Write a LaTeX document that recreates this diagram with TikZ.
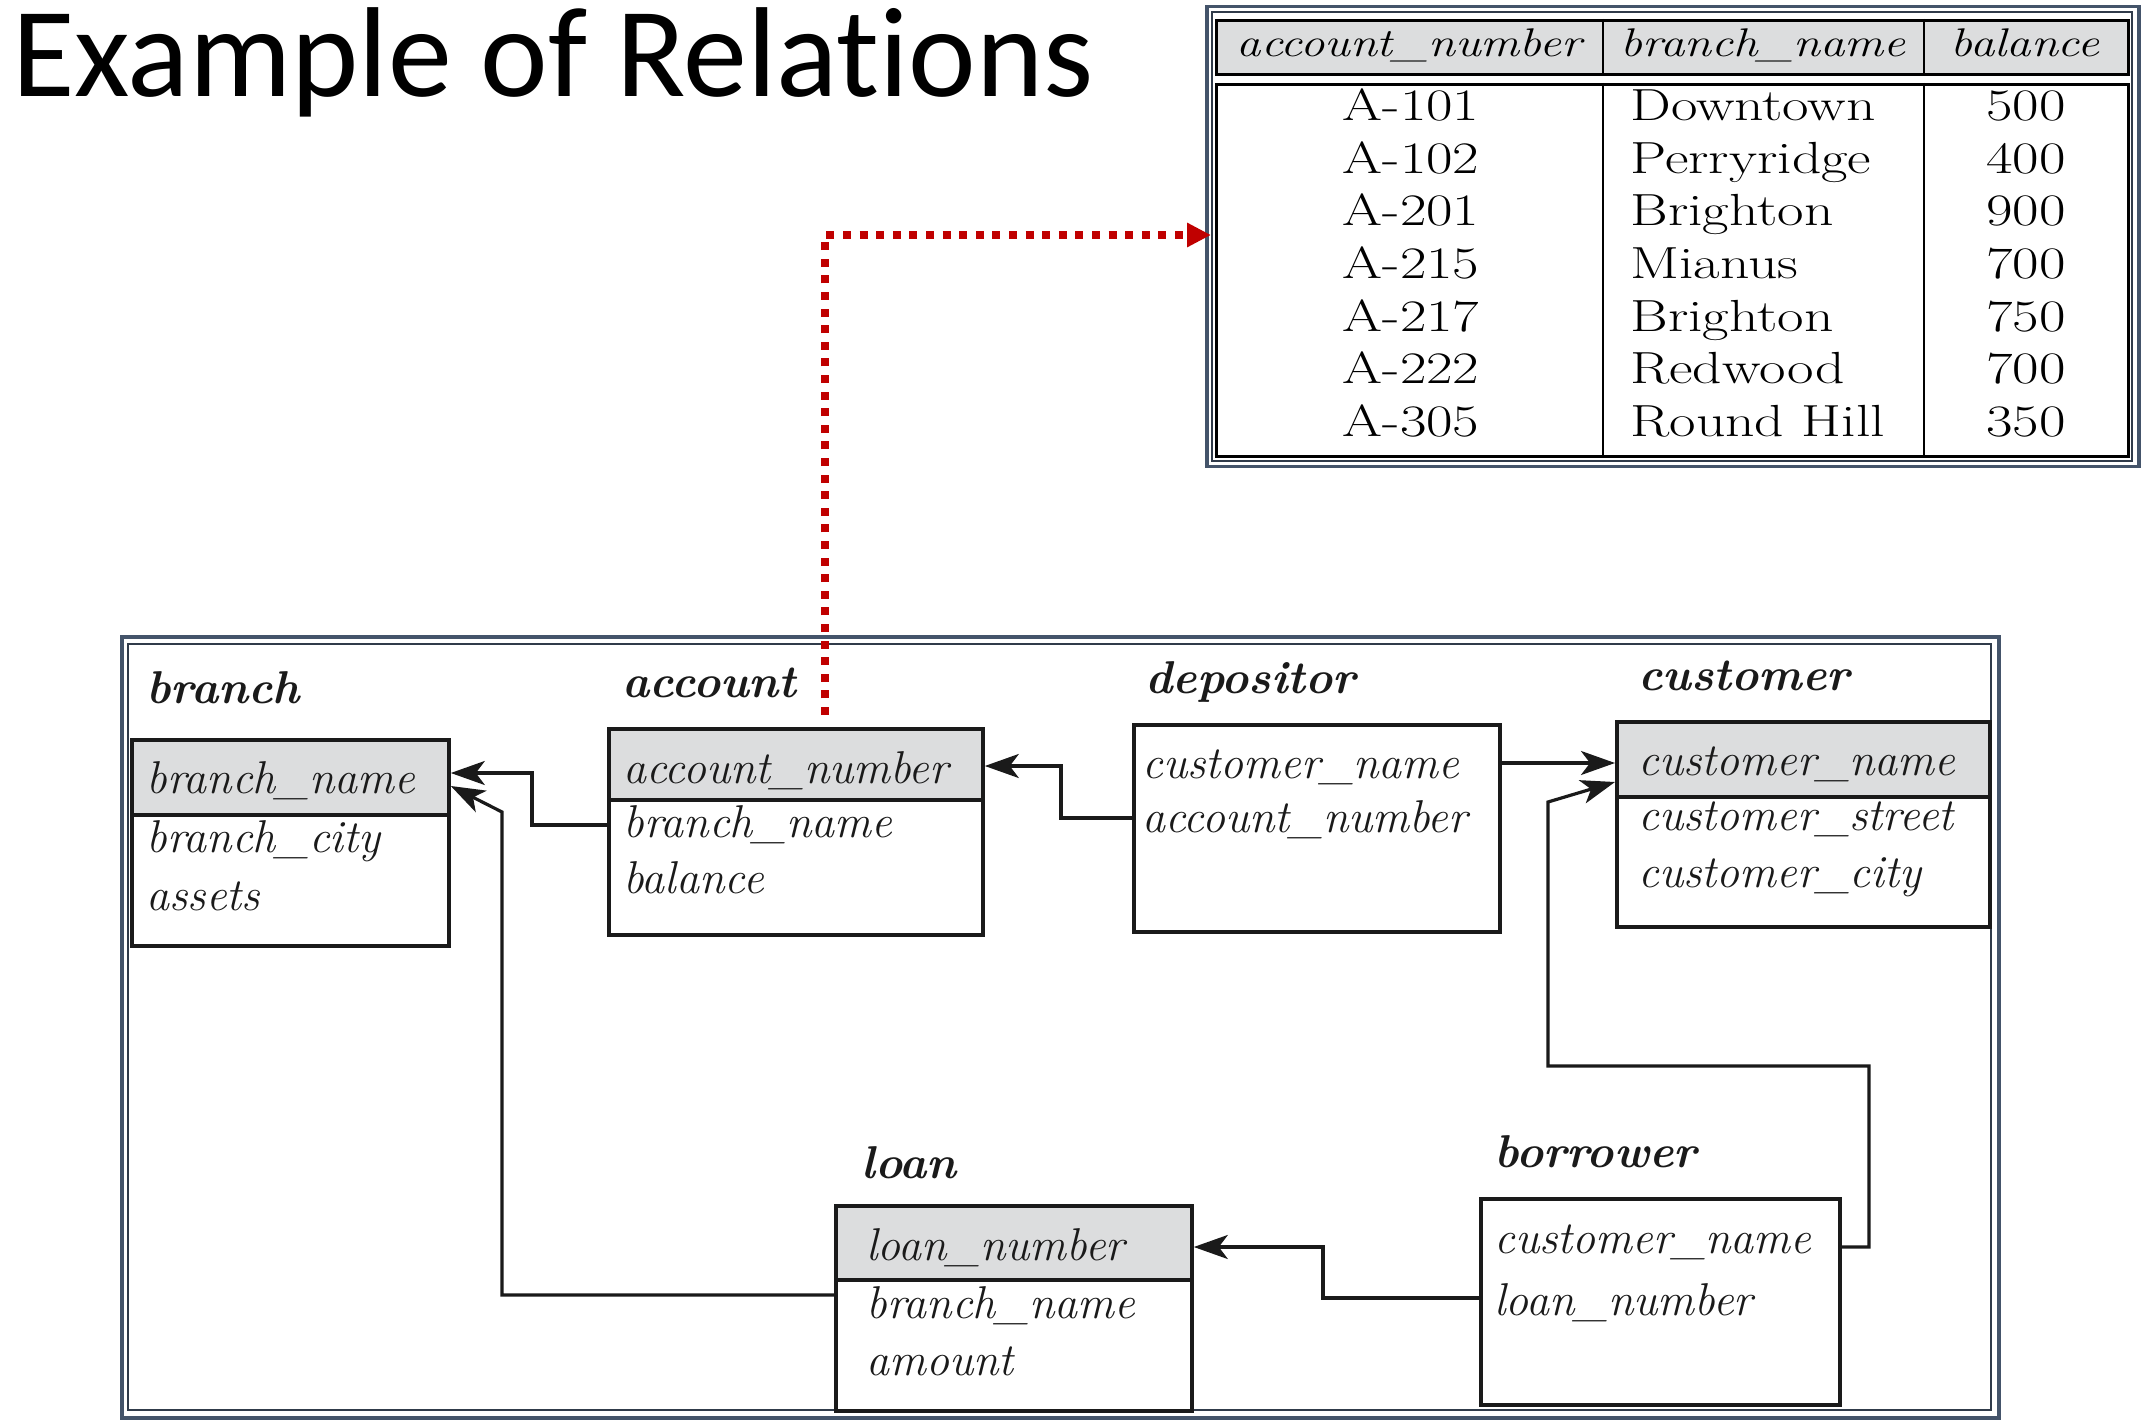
\documentclass[tikz,border=0pt]{standalone}
\usepackage{fontspec}
\newfontfamily\tabfont{Latin Modern Roman}[FakeStretch=1.28]
\newfontfamily\tabheadfont{Latin Modern Roman}[FakeStretch=1.22]
\newfontfamily\titlefont{Carlito}[Ligatures=NoCommon]
\usetikzlibrary{arrows.meta}
\definecolor{frame}{HTML}{44546A}
\definecolor{hdrgray}{HTML}{DCDDDE}
\definecolor{ink}{HTML}{1A1A1A}
\definecolor{redarrow}{HTML}{C00000}
\begin{document}
\begin{tikzpicture}[x=0.5pt,y=-0.5pt,
  rel/.style={draw=ink, line width=1.9pt, anchor=north west, inner sep=0pt, fill=white},
  hdr/.style={rel, fill=hdrgray},
  attr/.style={anchor=base west, inner sep=0pt, xshift=-2pt, font=\fontsize{23pt}{23pt}\selectfont\itshape, text=ink},
  relname/.style={anchor=base west, inner sep=0pt, xshift=-2pt, font=\fontsize{23pt}{23pt}\selectfont\bfseries\itshape, text=ink},
  fk/.style={draw=ink, line width=1.6pt, -{Stealth[length=17pt, width=12pt, inset=4.5pt]}},
  reddot/.style={draw=redarrow, line width=4pt, dash pattern=on 4pt off 4.3pt, -{Triangle[length=12pt, width=11.5pt]}},
  outerframe/.style={draw=frame, line width=1.75pt, anchor=north west, inner sep=0pt},
  innerframe/.style={draw=frame!70!black, line width=1.2pt, anchor=north west, inner sep=0pt},
  tcell/.style={inner sep=0pt, font=\tabfont\fontsize{22.5pt}{22.5pt}\selectfont},
  thead/.style={anchor=base, inner sep=0pt, font=\tabheadfont\fontsize{20pt}{20pt}\selectfont\itshape},
  tbox/.style={draw=black, line width=1.5pt, anchor=north west, inner sep=0pt}
]
\useasboundingbox (0,0) rectangle (2144,1423);
\fill[white] (0,0) rectangle (2144,1423);

% title
\node[anchor=base west, inner sep=0pt, font=\titlefont\fontsize{64pt}{64pt}\selectfont] (title) at (12,97) {Example of Relations};

% ---------- account table ----------
\node[outerframe, minimum width=466pt, minimum height=230pt] (acctable) at (1205,5) {};
\node[innerframe, minimum width=460pt, minimum height=224.5pt] (acctin) at (1211,11) {};
\node[tbox, fill=hdrgray, minimum width=456pt, minimum height=27pt] (thdr) at (1215,19) {};
\node[tbox, fill=white, minimum width=456pt, minimum height=186pt] (tbody) at (1215,83) {};
\draw[line width=1.2pt] (1603,19) -- (1603,73) (1924,19) -- (1924,73);
\draw[line width=1.2pt] (1603,83) -- (1603,455) (1924,83) -- (1924,455);
\node[thead] (h1) at (1409,57) {account\_number};
\node[thead] (h2) at (1763,57) {branch\_name};
\node[thead] (h3) at (2025,57) {balance};
\foreach \i/\a/\b/\c in {0/A-101/Downtown/500, 1/A-102/Perryridge/400, 2/A-201/Brighton/900,
  3/A-215/Mianus/700, 4/A-217/Brighton/750, 5/A-222/Redwood/700, 6/A-305/Round Hill/350}{
  \node[tcell, anchor=base] (ra\i) at (1411,120.7+52.65*\i) {\a};
  \node[tcell, anchor=base west] (rb\i) at (1630,120.7+52.65*\i) {\b};
  \node[tcell, anchor=base] (rc\i) at (2026,120.7+52.65*\i) {\c};
}

% ---------- schema diagram ----------
\node[outerframe, minimum width=938.5pt, minimum height=390.5pt] (schema) at (120,635) {};
\node[innerframe, minimum width=931.5pt, minimum height=383pt] (schemain) at (127,643) {};

% branch
\node[rel, minimum width=158.5pt, minimum height=103pt] (branch) at (130,738) {};
\node[hdr, minimum width=158.5pt, minimum height=37.5pt] (branchh) at (130,738) {};
\node[relname] (branchlbl) at (150,703) {branch};
\node[attr] (b1) at (150,793) {branch\_name};
\node[attr] (b2) at (150,852) {branch\_city};
\node[attr] (b3) at (150,910) {assets};

% account
\node[rel, minimum width=187pt, minimum height=103pt] (account) at (607,727) {};
\node[hdr, minimum width=187pt, minimum height=35.5pt] (accounth) at (607,727) {};
\node[relname] (accountlbl) at (626,697) {account};
\node[attr] (a1) at (627,783) {account\_number};
\node[attr] (a2) at (627,837) {branch\_name};
\node[attr] (a3) at (627,893) {balance};

% depositor
\node[rel, minimum width=183pt, minimum height=103.5pt] (depositor) at (1132,723) {};
\node[relname] (depositorlbl) at (1149,693) {depositor};
\node[attr] (d1) at (1146,778) {customer\_name};
\node[attr] (d2) at (1146,832) {account\_number};

% customer
\node[rel, minimum width=186.5pt, minimum height=102.5pt] (customer) at (1615,720) {};
\node[hdr, minimum width=186.5pt, minimum height=37.5pt] (customerh) at (1615,720) {};
\node[relname] (customerlbl) at (1642,690) {customer};
\node[attr] (c1) at (1642,775) {customer\_name};
\node[attr] (c2) at (1642,830) {customer\_street};
\node[attr] (c3) at (1642,887) {customer\_city};

% loan
\node[rel, minimum width=178pt, minimum height=102.5pt] (loan) at (834,1204) {};
\node[hdr, minimum width=178pt, minimum height=37pt] (loanh) at (834,1204) {};
\node[relname] (loanlbl) at (865,1178) {loan};
\node[attr] (l1) at (870,1260) {loan\_number};
\node[attr] (l2) at (870,1318) {branch\_name};
\node[attr] (l3) at (870,1375) {amount};

% borrower
\node[rel, minimum width=179.5pt, minimum height=103pt] (borrower) at (1479,1197) {};
\node[relname] (borrowerlbl) at (1498,1167) {borrower};
\node[attr] (w1) at (1498,1253) {customer\_name};
\node[attr] (w2) at (1498,1315) {loan\_number};

% connectors
\draw[fk] (account.west |- 0,825) -| (532,773) -- (branch.east |- 0,773);
\draw[fk] (loan.west |- 0,1295) -| (502,812) -- (branch.east |- 0,786);
\draw[fk] (depositor.west |- 0,818) -| (1061,766) -- (account.east |- 0,766);
\draw[fk] (depositor.east |- 0,763) -- (customer.west |- 0,763);
\draw[fk] (borrower.east |- 0,1247) -| (1869,1066) -| (1548,802) -- (customer.west |- 0,782);
\draw[fk] (borrower.west |- 0,1298) -| (1323,1247) -- (loan.east |- 0,1247);

% red dotted pointer
\coordinate (redstart) at (825,715);
\draw[reddot] (redstart) |- (acctin.west |- 0,235);
\end{tikzpicture}
\end{document}
